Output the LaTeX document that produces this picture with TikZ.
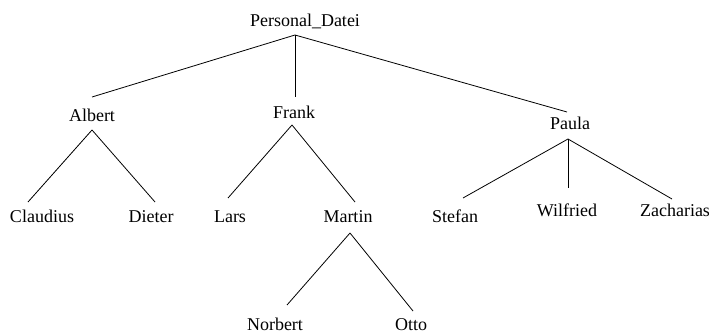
\documentclass[tikz,border=0pt]{standalone}
\usepackage{fontspec}
\setmainfont{Liberation Serif}
\begin{document}
\begin{tikzpicture}[x=1pt,y=-1pt,
  lbl/.style={anchor=base,inner sep=0pt,font=\fontsize{18}{20}\selectfont},
  edge/.style={line width=0.8pt,black}]
\useasboundingbox (0,0) rectangle (709,334);
% nodes
\node[lbl] (root) at (305,27) {Personal\_Datei};
\node[lbl] (albert) at (92,122) {Albert};
\node[lbl] (frank) at (294,118) {Frank};
\node[lbl] (paula) at (570,130) {Paula};
\node[lbl] (claudius) at (42,222) {Claudius};
\node[lbl] (dieter) at (151,222) {Dieter};
\node[lbl] (lars) at (230,222) {Lars};
\node[lbl] (martin) at (348,222) {Martin};
\node[lbl] (stefan) at (455,222) {Stefan};
\node[lbl] (wilfried) at (567,216) {Wilfried};
\node[lbl] (zacharias) at (675,216) {Zacharias};
\node[lbl] (norbert) at (275,330) {Norbert};
\node[lbl] (otto) at (411,330) {Otto};
% edges
\draw[edge] ([xshift=-10pt,yshift=-8pt]root.base) -- ([yshift=25pt]albert.base);
\draw[edge] ([xshift=-10pt,yshift=-8pt]root.base) -- ([xshift=1pt,yshift=21pt]frank.base);
\draw[edge] ([xshift=-10pt,yshift=-8pt]root.base) -- ([xshift=-3pt,yshift=18pt]paula.base);
\draw[edge] ([yshift=-8pt]albert.base) -- ([xshift=-14pt,yshift=20pt]claudius.base);
\draw[edge] ([yshift=-8pt]albert.base) -- ([xshift=4pt,yshift=20pt]dieter.base);
\draw[edge] ([xshift=-2pt,yshift=-7pt]frank.base) -- ([xshift=-2pt,yshift=24pt]lars.base);
\draw[edge] ([xshift=-2pt,yshift=-7pt]frank.base) -- ([xshift=7pt,yshift=20pt]martin.base);
\draw[edge] ([xshift=-2pt,yshift=-9pt]paula.base) -- ([xshift=8pt,yshift=24pt]stefan.base);
\draw[edge] ([xshift=-2pt,yshift=-9pt]paula.base) -- ([xshift=1pt,yshift=28pt]wilfried.base);
\draw[edge] ([xshift=-2pt,yshift=-9pt]paula.base) -- ([xshift=-3pt,yshift=17pt]zacharias.base);
\draw[edge] ([xshift=2pt,yshift=-11pt]martin.base) -- ([xshift=12pt,yshift=25pt]norbert.base);
\draw[edge] ([xshift=2pt,yshift=-11pt]martin.base) -- ([xshift=2pt,yshift=19pt]otto.base);
\end{tikzpicture}
\end{document}
